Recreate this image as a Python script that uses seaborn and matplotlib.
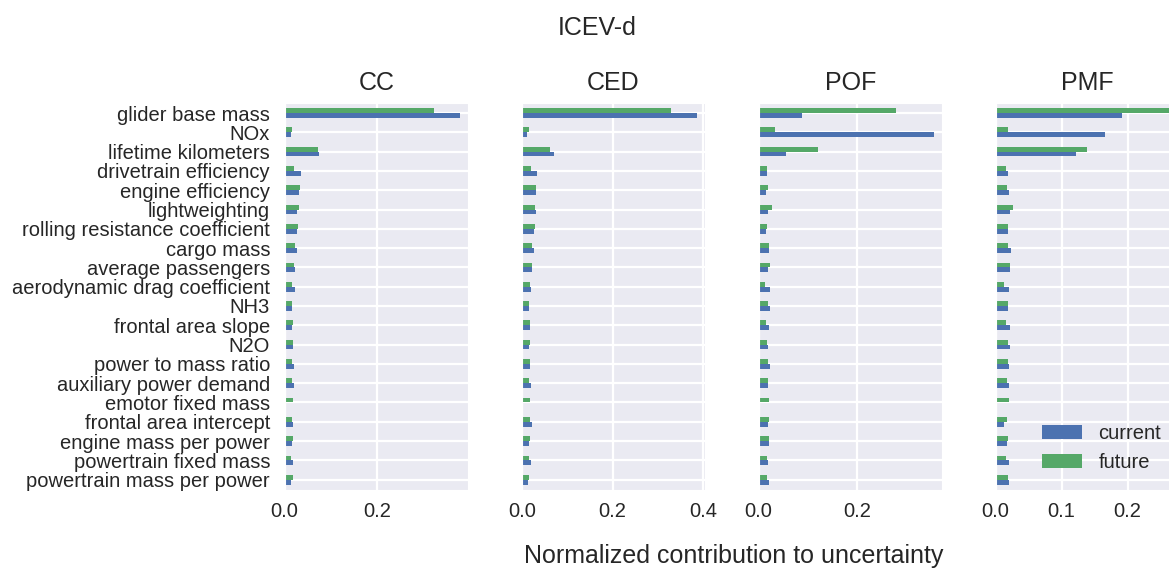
import pandas as pd
import matplotlib.pyplot as plt
import matplotlib.ticker as mticker
import seaborn as sns

# parameters, top to bottom
parameters = ['glider base mass', 'NOx', 'lifetime kilometers', 'drivetrain efficiency',
              'engine efficiency', 'lightweighting', 'rolling resistance coefficient',
              'cargo mass', 'average passengers', 'aerodynamic drag coefficient', 'NH3',
              'frontal area slope', 'N2O', 'power to mass ratio', 'auxiliary power demand',
              'emotor fixed mass', 'frontal area intercept', 'engine mass per power',
              'powertrain fixed mass', 'powertrain mass per power']

impacts = ['CC', 'CED', 'POF', 'PMF']

cc_current = [0.377, 0.013, 0.074, 0.036, 0.030, 0.027, 0.027, 0.026, 0.022, 0.022,
              0.016, 0.016, 0.019, 0.021, 0.021, 0.0, 0.019, 0.016, 0.019, 0.014]
cc_future = [0.321, 0.016, 0.071, 0.021, 0.034, 0.031, 0.029, 0.022, 0.021, 0.016,
             0.016, 0.019, 0.019, 0.016, 0.016, 0.018, 0.016, 0.019, 0.013, 0.017]

ced_current = [0.385, 0.012, 0.071, 0.034, 0.031, 0.031, 0.026, 0.027, 0.023, 0.021,
               0.016, 0.018, 0.015, 0.019, 0.020, 0.0, 0.022, 0.015, 0.020, 0.013]
ced_future = [0.328, 0.015, 0.063, 0.020, 0.031, 0.029, 0.029, 0.022, 0.023, 0.018,
              0.016, 0.019, 0.019, 0.018, 0.015, 0.018, 0.018, 0.018, 0.015, 0.016]

pof_current = [0.088, 0.354, 0.056, 0.017, 0.015, 0.018, 0.015, 0.020, 0.018, 0.022,
               0.022, 0.020, 0.018, 0.022, 0.018, 0.0, 0.018, 0.021, 0.018, 0.020]
pof_future = [0.277, 0.033, 0.121, 0.017, 0.018, 0.026, 0.017, 0.020, 0.022, 0.013,
              0.018, 0.014, 0.017, 0.019, 0.018, 0.021, 0.020, 0.020, 0.017, 0.017]

pmf_current = [0.192, 0.165, 0.122, 0.018, 0.021, 0.022, 0.018, 0.024, 0.022, 0.020,
               0.019, 0.022, 0.022, 0.020, 0.020, 0.0, 0.013, 0.017, 0.021, 0.020]
pmf_future = [0.265, 0.019, 0.138, 0.015, 0.017, 0.027, 0.018, 0.019, 0.022, 0.013,
              0.019, 0.015, 0.018, 0.019, 0.017, 0.020, 0.017, 0.019, 0.015, 0.018]

values = {
    'CC': (cc_current, cc_future),
    'CED': (ced_current, ced_future),
    'POF': (pof_current, pof_future),
    'PMF': (pmf_current, pmf_future),
}

sns.set_style('darkgrid')
plt.rcParams['font.family'] = ['Liberation Sans', 'DejaVu Sans']

colors = {'current': '#4C72B0', 'future': '#55A868'}

fig = plt.figure(figsize=(11.69, 5.71), dpi=100)

lefts = [0.2435, 0.4463, 0.6490, 0.8517]
axes = []
for i, impact in enumerate(impacts):
    cur, fut = values[impact]
    df = pd.DataFrame({
        'parameter': parameters * 2,
        'value': cur + fut,
        'scenario': ['current'] * len(parameters) + ['future'] * len(parameters),
    })
    ax = fig.add_axes([lefts[i], 0.142, 0.1571, 0.678])
    sns.barplot(data=df, x='value', y='parameter', hue='scenario',
                order=parameters, hue_order=['future', 'current'],
                palette=colors, saturation=1, width=0.5, errorbar=None, linewidth=0,
                ax=ax, legend=(impact == 'PMF'))
    ax.set_xlim(0, max(cur + fut) * 1.05)
    ax.set_ylim(len(parameters) - 0.47, -0.53)
    ax.xaxis.set_major_locator(mticker.MultipleLocator(0.1 if impact == 'PMF' else 0.2))
    ax.set_xlabel('')
    ax.set_ylabel('')
    ax.set_title(impact, fontsize=18, pad=9)
    ax.grid(True, color='white', linewidth=1.6)
    ax.tick_params(axis='x', labelsize=14.5, pad=5)
    ax.tick_params(axis='y', labelsize=14.5, pad=7)
    if i > 0:
        ax.set_yticklabels([])
    axes.append(ax)

# legend: current first, then future
handles, labels = axes[-1].get_legend_handles_labels()
lookup = dict(zip(labels, handles))
axes[-1].legend([lookup['current'], lookup['future']], ['current', 'future'],
                loc='lower right', fontsize=14.5, frameon=False)

fig.text(0.511, 0.951, 'ICEV-d', ha='center', va='center', fontsize=18)
fig.text(0.628, 0.026, 'Normalized contribution to uncertainty',
         ha='center', va='center', fontsize=18)

fig.savefig('out.png', dpi=100)
